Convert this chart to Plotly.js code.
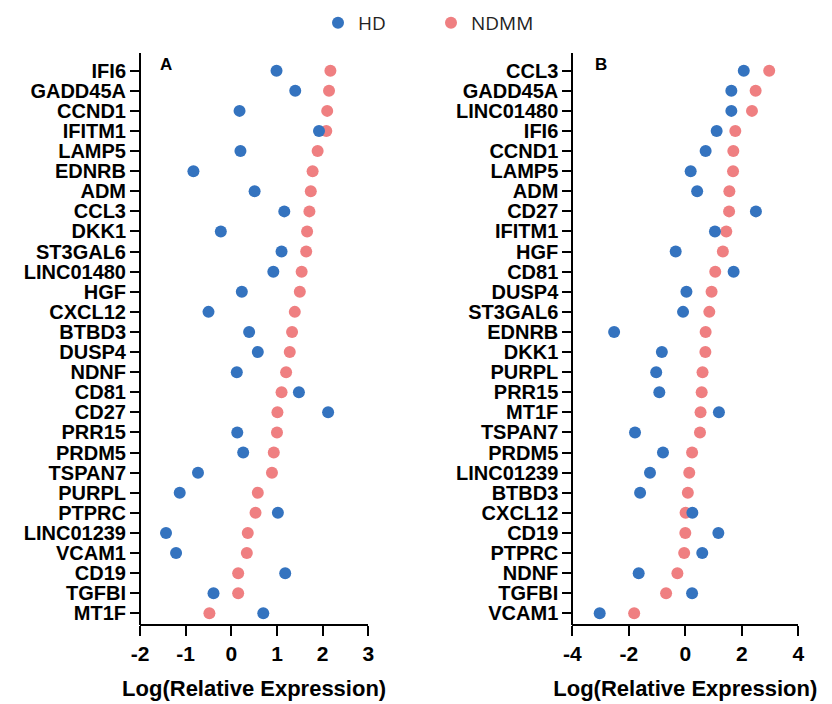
<!DOCTYPE html>
<html><head><meta charset="utf-8">
<script src="https://cdn.plot.ly/plotly-3.0.1.min.js"></script>
<style>body{margin:0;background:#fff}#chart{width:832px;height:704px}</style>
</head><body><div id="chart"></div><script>
const genesA = ['IFI6','GADD45A','CCND1','IFITM1','LAMP5','EDNRB','ADM','CCL3','DKK1','ST3GAL6','LINC01480','HGF','CXCL12','BTBD3','DUSP4','NDNF','CD81','CD27','PRR15','PRDM5','TSPAN7','PURPL','PTPRC','LINC01239','VCAM1','CD19','TGFBI','MT1F'];
const hdA = [0.99,1.40,0.18,1.92,0.20,-0.83,0.51,1.16,-0.23,1.10,0.92,0.23,-0.50,0.39,0.58,0.12,1.48,2.12,0.13,0.26,-0.73,-1.13,1.02,-1.43,-1.21,1.18,-0.39,0.70];
const ndmmA = [2.17,2.14,2.10,2.08,1.89,1.78,1.74,1.71,1.66,1.64,1.54,1.50,1.39,1.33,1.28,1.20,1.10,1.01,1.00,0.93,0.89,0.58,0.53,0.36,0.34,0.15,0.15,-0.48];

const genesB = ['CCL3','GADD45A','LINC01480','IFI6','CCND1','LAMP5','ADM','CD27','IFITM1','HGF','CD81','DUSP4','ST3GAL6','EDNRB','DKK1','PURPL','PRR15','MT1F','TSPAN7','PRDM5','LINC01239','BTBD3','CXCL12','CD19','PTPRC','NDNF','TGFBI','VCAM1'];
const hdB = [2.07,1.63,1.63,1.11,0.72,0.19,0.42,2.50,1.05,-0.34,1.71,0.04,-0.08,-2.52,-0.83,-1.03,-0.92,1.19,-1.78,-0.79,-1.25,-1.60,0.25,1.17,0.60,-1.65,0.24,-3.03];
const ndmmB = [2.97,2.49,2.36,1.77,1.70,1.69,1.56,1.55,1.45,1.33,1.06,0.93,0.85,0.72,0.71,0.61,0.58,0.54,0.52,0.24,0.14,0.09,0.01,0.00,-0.04,-0.28,-0.68,-1.81];

const ticksA = [-2,-1,0,1,2,3];
const ticksB = [-4,-2,0,2,4];
const seriesNames = ['HD','NDMM'];
const panelLabels = ['A','B'];
const xTitle = 'Log(Relative Expression)';

const BLUE = '#3473bf', PINK = '#ef7f81';
const mk = (c) => ({color:c, size:12, line:{width:0}});

const traces = [
  {type:'scatter', mode:'markers', name:seriesNames[1], x:ndmmA, y:genesA, xaxis:'x', yaxis:'y', marker:mk(PINK), legendrank:2, showlegend:true},
  {type:'scatter', mode:'markers', name:seriesNames[1], x:ndmmB, y:genesB, xaxis:'x2', yaxis:'y2', marker:mk(PINK), legendrank:2, showlegend:false},
  {type:'scatter', mode:'markers', name:seriesNames[0], x:hdA, y:genesA, xaxis:'x', yaxis:'y', marker:mk(BLUE), legendrank:1, showlegend:true},
  {type:'scatter', mode:'markers', name:seriesNames[0], x:hdB, y:genesB, xaxis:'x2', yaxis:'y2', marker:mk(BLUE), legendrank:1, showlegend:false}
];

const tickFont = {family:'Liberation Sans, Arial, sans-serif', size:20, color:'#000', weight:'bold'};
const titleFont = {family:'Liberation Sans, Arial, sans-serif', size:22, color:'#000', weight:'bold'};
const yDom = [1-625/704, 1-53/704];

function xax(dom, rng, ticks){
  return {domain:dom, range:rng, tickmode:'array', tickvals:ticks, ticktext:ticks.map(String), showgrid:false, zeroline:false,
    showline:true, linecolor:'#000', linewidth:2, ticks:'outside', ticklen:10, tickwidth:2, tickcolor:'#000',
    tickfont:{family:'Liberation Sans, Arial, sans-serif', size:21, color:'#000', weight:'bold'},
    title:{text:xTitle, font:titleFont, standoff:15}, anchor:'free', position:yDom[0], fixedrange:true};
}
function yax(dom, cats){
  return {domain:yDom, type:'category', categoryorder:'array', categoryarray:cats, range:[cats.length-1+0.58, -0.88],
    tickmode:'array', tickvals:cats, ticktext:cats,
    showgrid:false, zeroline:false, showline:true, linecolor:'#000', linewidth:2, ticks:'outside', ticklen:9, tickwidth:2,
    tickcolor:'#000', tickfont:tickFont, anchor:'free', position:dom[0], fixedrange:true};
}
const domA = [140/832, 368.3/832];
const domB = [572.3/832, 798.3/832];

const layout = {
  width:832, height:704, margin:{l:0,r:0,t:0,b:0}, paper_bgcolor:'#fff', plot_bgcolor:'#fff',
  xaxis: xax(domA, [-2,3], ticksA),
  yaxis: yax(domA, genesA),
  xaxis2: xax(domB, [-4,4], ticksB),
  yaxis2: yax(domB, genesB),
  showlegend:true,
  legend:{orientation:'h', x:318/832, xanchor:'left', y:1-4/704, yanchor:'top', entrywidth:68,
    font:{family:'Open Sans, sans-serif', size:19, color:'#222'}, traceorder:'normal', bgcolor:'rgba(0,0,0,0)'},
  annotations:[
    {text:panelLabels[0], xref:'paper', yref:'paper', x:166/832, y:1-64/704, showarrow:false, xanchor:'center', yanchor:'middle',
     font:{family:'Liberation Sans, Arial, sans-serif', size:17, color:'#000', weight:'bold'}},
    {text:panelLabels[1], xref:'paper', yref:'paper', x:601/832, y:1-64/704, showarrow:false, xanchor:'center', yanchor:'middle',
     font:{family:'Liberation Sans, Arial, sans-serif', size:17, color:'#000', weight:'bold'}}
  ]
};
Plotly.newPlot('chart', traces, layout, {displayModeBar:false, staticPlot:true});
</script></body></html>
